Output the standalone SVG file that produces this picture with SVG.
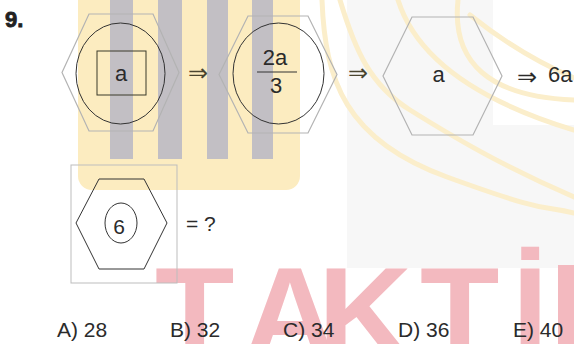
<svg xmlns="http://www.w3.org/2000/svg" width="574" height="344" viewBox="0 0 574 344">
<style>
text{font-family:"Liberation Sans",Arial,sans-serif;fill:#2b2b2b}
.lbl{font-size:21px}
.big{font-size:22px}
.arrow{font-family:"DejaVu Sans",sans-serif;font-size:24px}
.hexl{fill:none;stroke:#b3b3b3;stroke-width:1.2}
.dark{fill:none;stroke:#333;stroke-width:1}
.arc{fill:none;stroke:#fbeecb;stroke-width:5;stroke-linecap:round}
.bar{fill:#c2bfc4}
.wm{fill:#f3b9bf;font-family:"Liberation Sans",Arial,sans-serif;font-weight:bold;font-size:130px}
</style>
<rect width="574" height="344" fill="#fff"/>
<g id="watermark">
<path d="M347 0H493V125H574V268H347Z" fill="#f7f7f7"/>
<rect x="78" y="-20" width="222" height="210" rx="14" fill="#fcecc0"/>
<rect class="bar" x="110" y="0" width="23" height="159"/>
<rect class="bar" x="158" y="0" width="24" height="159"/>
<rect class="bar" x="207" y="0" width="21" height="159"/>
<rect class="bar" x="252" y="0" width="21" height="159"/>
<path class="arc" d="M322 0C325 80 345 140 447 177S540 205 574 213"/>
<path class="arc" d="M340 0C355 50 370 85 410 110S500 165 574 197"/>
<path class="arc" d="M398 0Q425 85 574 130"/>
<path class="arc" d="M458 0Q448 95 574 100"/>
<path class="arc" d="M470 15Q520 55 574 78"/>
<text class="wm" x="155 243 318 420 512" y="358">TAKTİ</text>
<rect x="558" y="265" width="16" height="79" fill="#f3b9bf"/>
</g>
<text x="5" y="27" style="font-size:22px;font-weight:bold;fill:#222;stroke:#222;stroke-width:0.8">9.</text>
<g id="node1">
<polygon class="hexl" points="62,72.5 89,14 153,14 179,72.5 153,131 89,131"/>
<ellipse class="dark" cx="120.5" cy="73.5" rx="44.5" ry="50.5"/>
<rect x="97" y="51" width="49" height="44" fill="none" stroke="#3a3a2a" stroke-width="1"/>
<text class="big" x="121" y="81" text-anchor="middle">a</text>
</g>
<g id="node2">
<polygon class="hexl" points="219,74.5 248,16 308,16 337,74.5 308,133 248,133"/>
<ellipse class="dark" cx="278.5" cy="73.5" rx="45.5" ry="50.5"/>
<text class="big" x="275" y="65" text-anchor="middle">2a</text>
<line x1="257" y1="72" x2="297" y2="72" stroke="#333" stroke-width="1"/>
<text class="big" x="276" y="93" text-anchor="middle">3</text>
</g>
<g id="node3">
<polygon class="hexl" points="383,76 412,17 473,17 502,76 473,135 412,135"/>
<text class="big" x="438.5" y="81.5" text-anchor="middle">a</text>
</g>
<g id="result">
<text class="big" x="548" y="82">6a</text>
</g>
<g id="connectors">
<text class="arrow" x="188" y="81" style="fill:#4a4530">⇒</text>
<text class="arrow" x="348" y="81" style="fill:#4a4530">⇒</text>
<text class="arrow" x="517" y="84.5">⇒</text>
</g>
<g id="question">
<rect x="71" y="165" width="106" height="118" fill="none" stroke="#bdbdbd" stroke-width="1"/>
<polygon class="dark" points="76,223 99,179 144,179 167,223 144,269 99,269"/>
<ellipse class="dark" cx="121" cy="223" rx="16" ry="20"/>
<text class="lbl" x="119" y="234" text-anchor="middle">6</text>
<text class="lbl" x="186" y="231">= ?</text>
</g>
<g id="answers">
<text class="lbl" x="57" y="337">A) 28</text>
<text class="lbl" x="170" y="337">B) 32</text>
<text class="lbl" x="283" y="337">C) 34</text>
<text class="lbl" x="398" y="337">D) 36</text>
<text class="lbl" x="513" y="337">E) 40</text>
</g>
</svg>
